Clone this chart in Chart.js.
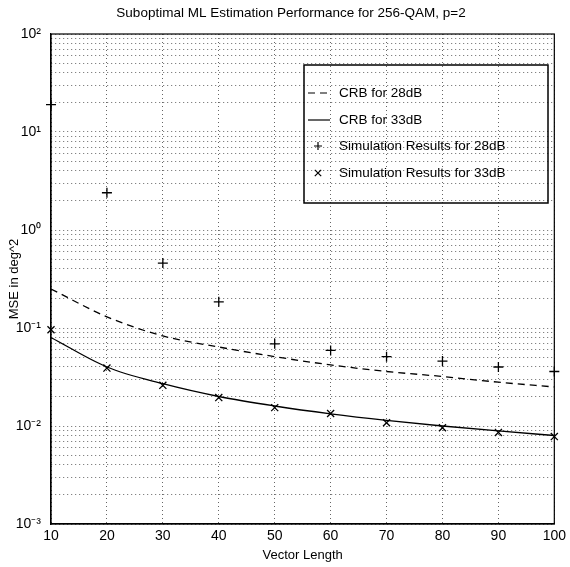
<!DOCTYPE html>
<html>
<head>
<meta charset="utf-8">
<script src="https://cdn.jsdelivr.net/npm/chart.js@4"></script>
<style>
  html,body{margin:0;padding:0;background:#fff;}
  #wrap{width:570px;height:567px;}
</style>
</head>
<body>
<div id="wrap"><canvas id="c" width="570" height="567"></canvas></div>
<script>
// Data
const vectorLength=[10,20,30,40,50,60,70,80,90,100];
const crb28=[0.25,0.13,0.083,0.064,0.051,0.042,0.036,0.032,0.028,0.025];
const crb33=[0.080,0.040,0.027,0.020,0.016,0.0133,0.0114,0.010,0.0089,0.0080];
const sim28=[19,2.4,0.46,0.185,0.069,0.059,0.051,0.046,0.040,0.036];
const sim33=[0.096,0.039,0.026,0.0195,0.0154,0.0134,0.0108,0.0096,0.0086,0.0078];
const xTicks=[10,20,30,40,50,60,70,80,90,100];
const yDecades=[-3,-2,-1,0,1,2];
const yLabels={'-3':'10⁻³','-2':'10⁻²','-1':'10⁻¹','0':'10⁰','1':'10¹','2':'10²'};
const chartTitle='Suboptimal ML Estimation Performance for 256-QAM, p=2';

const FONT='"Liberation Sans", Arial, sans-serif';
const pts=arr=>arr.map((v,i)=>({x:vectorLength[i],y:v}));

// title, box around plot + legend drawn inside the axes
const boxPlugin={
  id:'box',
  afterDraw(chart){
    const {ctx,chartArea:a}=chart;
    ctx.save();
    ctx.fillStyle='#000'; ctx.textAlign='center'; ctx.textBaseline='middle';
    ctx.font='13.5px '+FONT;
    ctx.fillText(chartTitle,291,13);
    ctx.textAlign='left';
    ctx.strokeStyle='#000'; ctx.lineWidth=1.2;
    ctx.strokeRect(a.left,a.top,a.right-a.left,a.bottom-a.top);
    // legend
    const lx=304,ly=65,lw=244,lh=138;
    ctx.lineWidth=1.5;
    ctx.strokeRect(lx,ly,lw,lh);
    ctx.font='13.5px '+FONT;
    const rows=[93,120,146,173];
    chart.data.datasets.forEach((ds,i)=>{
      const y=rows[i];
      ctx.lineWidth=1.2; ctx.strokeStyle='#000';
      if(ds.showLine!==false){
        ctx.setLineDash(ds.borderDash||[]);
        ctx.beginPath(); ctx.moveTo(308,y); ctx.lineTo(330,y); ctx.stroke();
        ctx.setLineDash([]);
      } else {
        const cx=318,s=4;
        ctx.beginPath();
        if(ds.pointStyle==='cross'){ctx.moveTo(cx-s,y);ctx.lineTo(cx+s,y);ctx.moveTo(cx,y-s);ctx.lineTo(cx,y+s);}
        else {ctx.moveTo(cx-s*0.8,y-s*0.8);ctx.lineTo(cx+s*0.8,y+s*0.8);ctx.moveTo(cx-s*0.8,y+s*0.8);ctx.lineTo(cx+s*0.8,y-s*0.8);}
        ctx.stroke();
      }
      ctx.fillText(ds.label,339,y);
    });
    ctx.restore();
  }
};

const gridStyle={color:'rgba(0,0,0,0.6)',lineWidth:1,drawTicks:false};
const borderStyle={display:true,color:'#000',width:1.2,dash:[1,3]};

new Chart(document.getElementById('c'),{
  type:'line',
  data:{
    datasets:[
      {label:'CRB for 28dB',data:pts(crb28),borderColor:'#000',borderWidth:1.3,borderDash:[7,5],pointRadius:0,cubicInterpolationMode:'monotone',fill:false},
      {label:'CRB for 33dB',data:pts(crb33),borderColor:'#000',borderWidth:1.3,pointRadius:0,cubicInterpolationMode:'monotone',fill:false},
      {label:'Simulation Results for 28dB',data:pts(sim28),showLine:false,pointStyle:'cross',pointRadius:5,borderColor:'#000',pointBorderWidth:1.3,clip:false},
      {label:'Simulation Results for 33dB',data:pts(sim33),showLine:false,pointStyle:'crossRot',pointRadius:5,borderColor:'#000',pointBorderWidth:1.3,clip:false}
    ]
  },
  options:{
    responsive:false,animation:false,
    layout:{padding:{left:0,right:15,top:34,bottom:0}},
    plugins:{legend:{display:false},tooltip:{enabled:false},title:{display:false}},
    scales:{
      x:{type:'linear',min:10,max:100,
        afterFit(s){s.height=43;},
        afterBuildTicks(s){s.ticks=xTicks.map(v=>({value:v}));},
        ticks:{color:'#000',font:{family:FONT,size:14},padding:4,autoSkip:false,maxRotation:0},
        grid:gridStyle,border:borderStyle,
        title:{display:true,text:'Vector Length',color:'#000',font:{family:FONT,size:13},padding:{top:0,bottom:4}}
      },
      y:{type:'logarithmic',min:1e-3,max:1e2,
        afterFit(s){s.width=51;},
        afterBuildTicks(s){
          const t=[];
          yDecades.forEach(d=>{
            if(d===2){t.push({value:100});return;}
            for(let m=1;m<=9;m++) t.push({value:m*Math.pow(10,d)});
          });
          s.ticks=t;
        },
        ticks:{color:'#000',font:{family:FONT,size:14},padding:10,autoSkip:false,
          callback(v){const l=Math.log10(v);const r=Math.round(l);return Math.abs(l-r)<1e-9?yLabels[String(r)]:'';}},
        grid:gridStyle,border:borderStyle,
        title:{display:true,text:'MSE in deg^2',color:'#000',font:{family:FONT,size:13},padding:{top:7,bottom:0}}
      }
    }
  },
  plugins:[boxPlugin]
});
</script>
</body>
</html>
